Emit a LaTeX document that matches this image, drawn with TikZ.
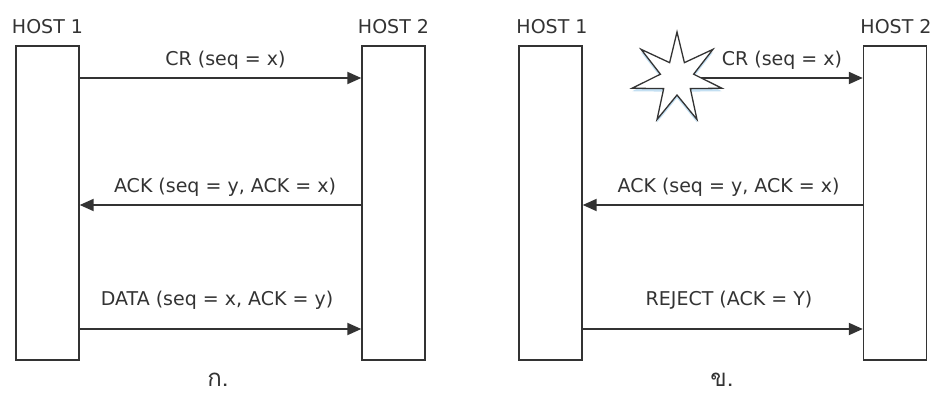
\documentclass[tikz,border=0pt]{standalone}
\usepackage{fontspec}
\setmainfont{DejaVu Sans}
\newfontfamily\thaifont[Script=Thai]{Loma}
\usetikzlibrary{arrows.meta,shapes.geometric,backgrounds}
\definecolor{ink}{HTML}{333333}
\definecolor{shade}{HTML}{A9D2EC}
\begin{document}
\begin{tikzpicture}[x=1pt,y=-1pt,
  lbl/.style={text=ink,font=\fontsize{19}{22}\selectfont,inner sep=0pt},
  captionlbl/.style={text=ink,font=\thaifont\fontsize{24}{26}\selectfont,inner sep=0pt,text depth=0pt,anchor=base},
  hostbox/.style={draw=ink,line width=1.4pt,fill=white,minimum width=63pt,minimum height=314pt,inner sep=0pt},
  msg/.style={draw=ink,line width=2pt,-{Triangle[length=14pt,width=12pt]}},
  boxshadow/.style={draw=shade,line width=2.5pt}]
\useasboundingbox (0,0) rectangle (933,395);
% left panel
\node[hostbox] (a1) at (47.5,203) {};
\node[hostbox] (a2) at (393.5,203) {};
\node[lbl] (ta1) at (47.5,27) {HOST 1};
\node[lbl] (ta2) at (393.5,27) {HOST 2};
% right panel
\node[hostbox] (b1) at (550.5,203) {};
\node[hostbox] (b2) at (895,203) {};
\node[lbl] (tb1) at (552,27) {HOST 1};
\node[lbl] (tb2) at (896,27) {HOST 2};
% box shadows
\begin{scope}[on background layer]
\foreach \n in {a1,a2,b1,b2}{
  \draw[boxshadow] ([yshift=3pt]\n.south west) -- ([yshift=3pt]\n.south east);
}
\end{scope}
% left messages
\draw[msg] (a1.east |- 0,78) -- (a2.west |- 0,78);
\node[lbl] (l1) at (225.5,60) {CR (seq = x)};
\draw[msg] (a2.west |- 0,205) -- (a1.east |- 0,205);
\node[lbl] (l2) at (225,187) {ACK (seq = y, ACK = x)};
\draw[msg] (a1.east |- 0,329) -- (a2.west |- 0,329);
\node[lbl] (l3) at (217,300) {DATA (seq = x, ACK = y)};
% right messages
\node[star,star points=7,star point ratio=2.7,minimum size=92pt,inner sep=0pt,
      fill=shade!70,draw=none] (starsh) at (677,81) {};
\node[star,star points=7,star point ratio=2.7,minimum size=92pt,inner sep=0pt,
      draw=ink,line width=1.3pt,fill=white] (burst) at (677,78) {};
\begin{scope}[on background layer]
\draw[msg] (burst.center) -- (b2.west |- burst.center);
\end{scope}
\node[lbl] (r1) at (782,60) {CR (seq = x)};
\draw[msg] (b2.west |- 0,205) -- (b1.east |- 0,205);
\node[lbl] (r2) at (728.5,187) {ACK (seq = y, ACK = x)};
\draw[msg] (b1.east |- 0,329) -- (b2.west |- 0,329);
\node[lbl] (r3) at (729,300) {REJECT (ACK = Y)};
% captions
\node[captionlbl] (ca) at (218,386) {ก.};
\node[captionlbl] (cb) at (722,386) {ข.};
\end{tikzpicture}
\end{document}
